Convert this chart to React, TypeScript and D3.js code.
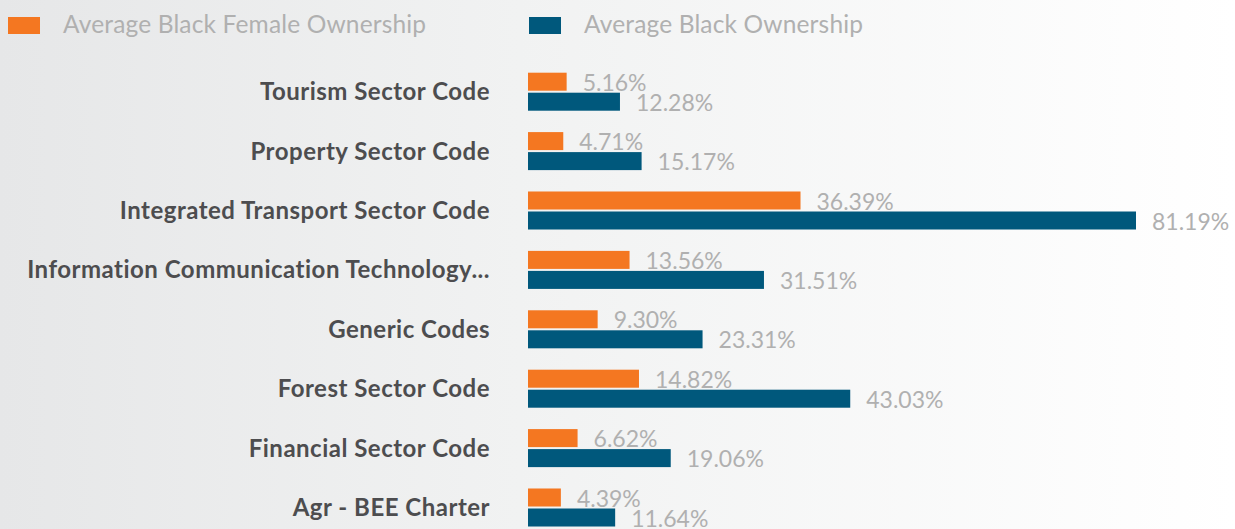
import React from 'react';
import * as d3 from 'd3';

const categories = [
  'Tourism Sector Code',
  'Property Sector Code',
  'Integrated Transport Sector Code',
  'Information Communication Technology...',
  'Generic Codes',
  'Forest Sector Code',
  'Financial Sector Code',
  'Agr - BEE Charter',
];

const femaleOwnership = [5.16, 4.71, 36.39, 13.56, 9.3, 14.82, 6.62, 4.39];
const blackOwnership = [12.28, 15.17, 81.19, 31.51, 23.31, 43.03, 19.06, 11.64];

const seriesNames = ['Average Black Female Ownership', 'Average Black Ownership'];
const seriesColors = ['#f47721', '#00587c'];

const width = 1235;
const height = 529;
const barLeft = 528;

const App = () => {
  const xScale = d3.scaleLinear()
    .domain([0, d3.max(blackOwnership)])
    .range([barLeft, 1136]);

  const yScale = d3.scaleBand()
    .domain(categories)
    .range([62, 537.2])
    .paddingInner(0.36)
    .paddingOuter(0.18);

  const subScale = d3.scaleBand()
    .domain(['female', 'black'])
    .range([0, yScale.bandwidth()])
    .paddingInner(0.1);

  const rows = categories.map((c, i) => ({
    category: c,
    values: [
      { key: 'female', value: femaleOwnership[i], color: seriesColors[0] },
      { key: 'black', value: blackOwnership[i], color: seriesColors[1] },
    ],
  }));

  const fmt = (v) => d3.format('.2f')(v) + '%';

  return (
    <svg
      width={width}
      height={height}
      style={{ position: 'absolute', left: 0, top: 0, display: 'block' }}
      fontFamily="Lato, 'Open Sans', sans-serif"
    >
      <defs>
        <linearGradient id="bg" x1="0" x2="1" y1="0" y2="0">
          <stop offset="0" stopColor="#e6e7e8" />
          <stop offset="0.42" stopColor="#f1f2f2" />
          <stop offset="1" stopColor="#ffffff" />
        </linearGradient>
      </defs>
      <rect width={width} height={height} fill="url(#bg)" />

      <g className="legend">
        {seriesNames.map((name, i) => {
          const x = i === 0 ? 8 : 529;
          return (
            <g key={name} transform={`translate(${x},17)`}>
              <rect width={32} height={17} fill={seriesColors[i]} />
              <text x={55} y={16} fontSize={24.5} letterSpacing={0.15} fill="#b0b0b0">{name}</text>
            </g>
          );
        })}
      </g>

      <g className="y-axis">
        {categories.map((c) => (
          <text
            key={c}
            x={490}
            y={yScale(c) + yScale.bandwidth() / 2 + 8.5}
            textAnchor="end"
            fontSize={24}
            letterSpacing={0.5}
            fontWeight="bold"
            fill="#4d4d4f"
          >
            {c}
          </text>
        ))}
      </g>

      <g className="plot-area">
        {rows.map((row) => (
          <g key={row.category} transform={`translate(0,${yScale(row.category)})`}>
            {row.values.map((d) => {
              const y = subScale(d.key);
              const bh = subScale.bandwidth();
              return (
                <g key={d.key}>
                  <rect
                    x={barLeft}
                    y={y}
                    width={xScale(d.value) - barLeft}
                    height={bh}
                    fill={d.color}
                  />
                  <text
                    x={xScale(d.value) + 16}
                    y={y + bh}
                    fontSize={23}
                    fill="#b0b0b0"
                  >
                    {fmt(d.value)}
                  </text>
                </g>
              );
            })}
          </g>
        ))}
      </g>
    </svg>
  );
};

export default App;
